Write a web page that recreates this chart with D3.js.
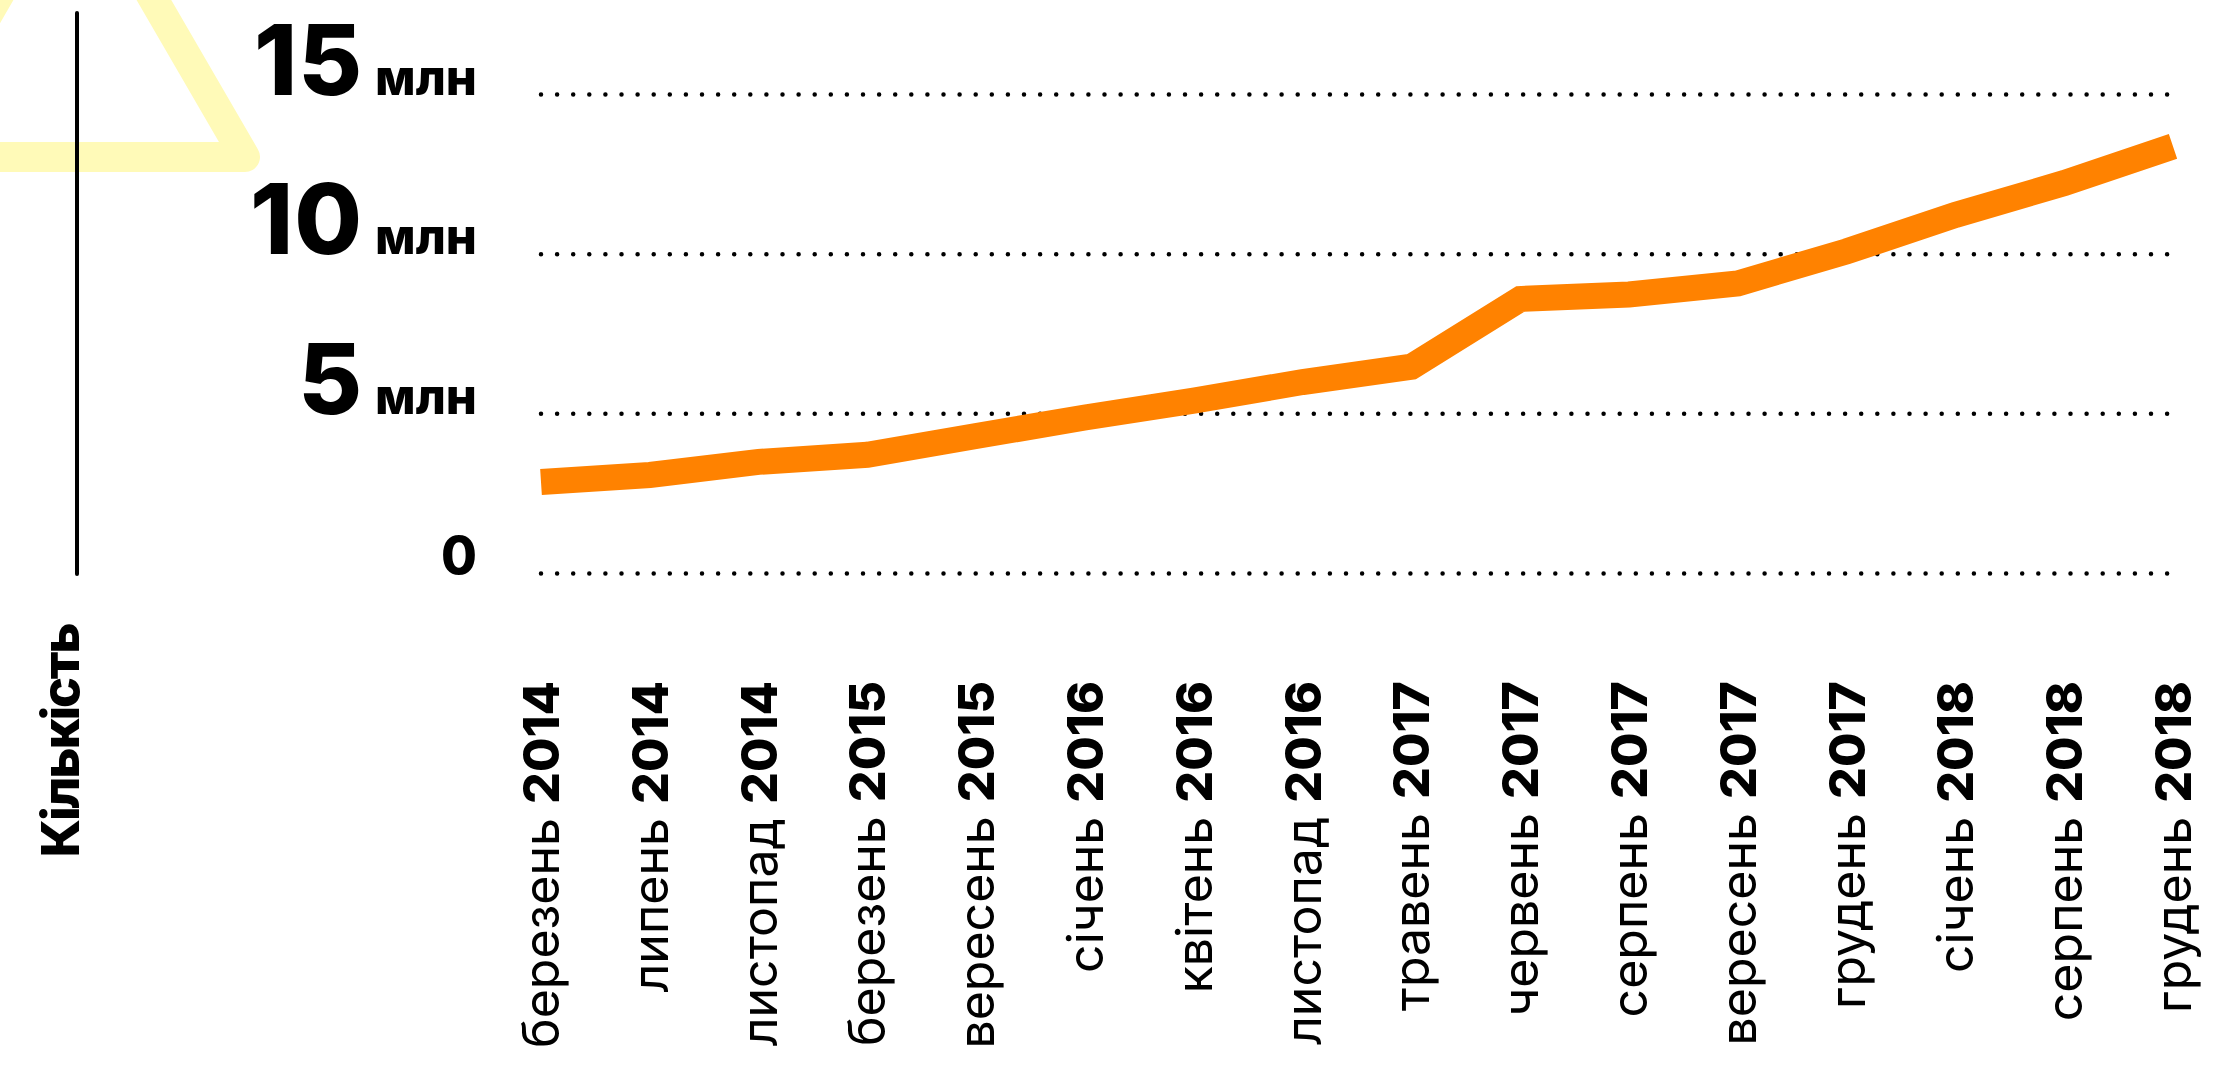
<!DOCTYPE html>
<html>
<head>
<meta charset="utf-8">
<script src="https://cdn.jsdelivr.net/npm/d3@7"></script>
<style>
  body { margin: 0; background: #fff; }
  svg text { font-family: 'Inter', 'Noto Sans', sans-serif; fill: #000; }
</style>
</head>
<body>
<div class="chart"></div>
<script>
// дані: кількість, млн
const months = ['березень', 'липень', 'листопад', 'березень', 'вересень', 'січень', 'квітень', 'листопад',
    'травень', 'червень', 'серпень', 'вересень', 'грудень', 'січень', 'серпень', 'грудень'];
const years = ['2014', '2014', '2014', '2015', '2015', '2016', '2016', '2016',
    '2017', '2017', '2017', '2017', '2017', '2018', '2018', '2018'];
const values = [2.85, 3.07, 3.48, 3.70, 4.29, 4.87, 5.40, 5.98, 6.46, 8.58, 8.72, 9.07, 10.07, 11.21, 12.21, 13.36];
const yTicks = [0, 5, 10, 15];
const yTitle = 'Кількість';

const draw = () => {
    const width = 2234;
    const height = 1067;
    const lineColor = '#ff8200';

    const svg = d3.select('.chart').append('svg')
        .attr('width', width)
        .attr('height', height);

    // decorative triangle in the corner
    svg.append('path')
        .attr('d', 'M75,-136L245,157L-95,157Z')
        .attr('fill', 'none')
        .attr('stroke', '#fffab8')
        .attr('stroke-width', 30)
        .attr('stroke-linejoin', 'round');

    svg.append('line')
        .attr('x1', 77).attr('x2', 77)
        .attr('y1', 13).attr('y2', 574)
        .attr('stroke', '#000')
        .attr('stroke-width', 4)
        .attr('stroke-linecap', 'round');

    const x = d3.scalePoint()
        .domain(d3.range(values.length))
        .range([541, 2173]);

    const y = d3.scaleLinear()
        .domain([0, 15])
        .range([573, 94]);

    // dotted grid
    const grid = svg.append('g')
        .attr('transform', 'translate(541,0)')
        .call(d3.axisLeft(y).tickValues(yTicks).tickSize(-1627).tickFormat(''));
    grid.select('.domain').remove();
    grid.selectAll('line')
        .attr('stroke', '#000')
        .attr('stroke-width', 4.5)
        .attr('stroke-linecap', 'round')
        .attr('stroke-dasharray', '0 16.1');

    // y labels
    const yAxis = svg.append('g')
        .attr('transform', 'translate(477,0)')
        .call(d3.axisLeft(y).tickValues(yTicks).tickSize(0).tickPadding(0));
    yAxis.select('.domain').remove();
    const yText = yAxis.selectAll('text')
        .attr('dy', 0)
        .attr('font-weight', 800)
        .attr('font-family', null)
        .attr('font-size', null)
        .text(null);
    yText.filter(d => d > 0).append('tspan')
        .attr('font-size', 98)
        .attr('letter-spacing', 1)
        .text(d => d);
    yText.filter(d => d > 0).append('tspan')
        .attr('font-size', 49)
        .attr('letter-spacing', 0)
        .attr('dx', 12)
        .text('млн');
    yText.filter(d => d === 0).append('tspan')
        .attr('font-size', 52)
        .text('0');

    // x labels
    const xAxis = svg.append('g')
        .attr('transform', 'translate(0,681)')
        .call(d3.axisBottom(x).tickSize(0).tickPadding(0));
    xAxis.select('.domain').remove();
    const xText = xAxis.selectAll('text')
        .attr('transform', 'rotate(-90)')
        .attr('x', 0)
        .attr('y', 0)
        .attr('dy', '0.35em')
        .attr('font-family', null)
        .attr('font-size', 50)
        .style('text-anchor', 'end')
        .text(null);
    xText.append('tspan').text(i => months[i] + ' ');
    xText.append('tspan').attr('font-weight', 800).text(i => years[i]);

    svg.append('text')
        .attr('transform', 'translate(79,741) rotate(-90)')
        .attr('text-anchor', 'middle')
        .attr('font-size', 52)
        .attr('font-weight', 800)
        .attr('letter-spacing', -2.2)
        .text(yTitle);

    const line = d3.line()
        .x((d, i) => x(i))
        .y(d => y(d));

    svg.append('path')
        .datum(values)
        .attr('d', line)
        .attr('fill', 'none')
        .attr('stroke', lineColor)
        .attr('stroke-width', 26)
        .attr('stroke-linejoin', 'miter');

    return svg;
};

draw();
</script>
</body>
</html>
